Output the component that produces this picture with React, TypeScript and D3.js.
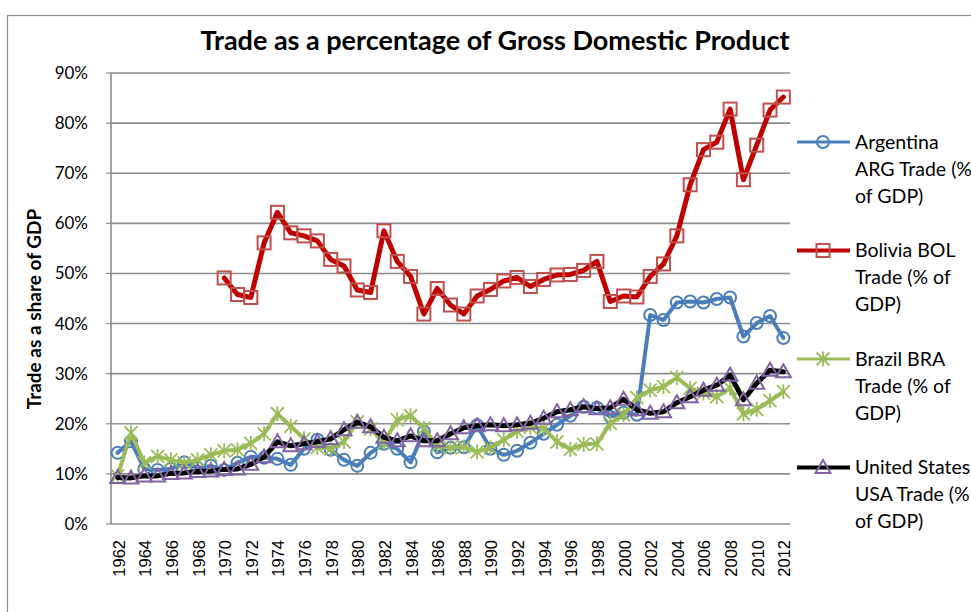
import React from 'react';
import * as d3 from 'd3';

// years on the category axis
const years: number[] = d3.range(1962, 2013);

const argentina: (number | null)[] = [
  14.2, 16.5, 11.0, 10.8, 11.0, 12.3, 11.2, 11.6, 10.8, 12.2,
  13.4, 13.2, 13.0, 11.8, 15.0, 16.8, 14.8, 12.8, 11.6, 14.2,
  16.0, 15.0, 12.3, 18.4, 14.3, 15.2, 15.3, 19.7, 15.0, 13.8,
  14.6, 16.2, 18.0, 19.8, 21.6, 23.4, 23.2, 21.4, 22.2, 21.8,
  41.7, 40.7, 44.2, 44.4, 44.2, 44.9, 45.2, 37.4, 40.1, 41.5, 37.1,
];

const bolivia: (number | null)[] = [
  null, null, null, null, null, null, null, null,
  49.1, 45.8, 45.2, 56.1, 62.2, 58.1, 57.5, 56.5, 52.8, 51.5,
  46.7, 46.2, 58.5, 52.4, 49.4, 41.9, 47.0, 43.7, 41.9, 45.5,
  46.8, 48.5, 49.2, 47.4, 48.8, 49.7, 49.8, 50.6, 52.4, 44.4,
  45.5, 45.3, 49.4, 51.9, 57.5, 67.7, 74.7, 76.2, 82.8, 68.7,
  75.6, 82.6, 85.2,
];

const brazil: (number | null)[] = [
  9.6, 18.2, 12.2, 13.5, 12.8, 12.2, 12.8, 13.8, 14.6, 14.8,
  16.1, 18.0, 22.0, 19.5, 17.0, 15.3, 15.0, 16.4, 20.4, 19.0,
  16.2, 20.8, 21.6, 19.1, 15.6, 15.2, 15.4, 14.4, 15.2, 16.8,
  18.5, 19.3, 19.1, 16.4, 14.9, 15.9, 16.0, 20.1, 21.8, 25.2,
  26.7, 27.4, 29.2, 27.1, 26.1, 25.4, 27.1, 22.0, 22.9, 24.6, 26.4,
];

const usa: (number | null)[] = [
  9.3, 9.2, 9.6, 9.6, 10.1, 10.2, 10.5, 10.6, 10.9, 11.0,
  11.9, 13.4, 16.4, 15.6, 16.0, 16.4, 17.0, 18.8, 20.3, 19.4,
  17.3, 16.6, 17.6, 16.6, 16.6, 18.0, 19.2, 19.6, 19.8, 19.6,
  19.8, 20.1, 21.1, 22.4, 22.8, 23.4, 23.0, 23.2, 24.9, 22.8,
  22.1, 22.4, 24.2, 25.4, 26.7, 27.7, 29.7, 24.8, 28.1, 30.7, 30.4,
];

const yTicks: number[] = [0, 10, 20, 30, 40, 50, 60, 70, 80, 90];

const legendLines: string[][] = [
  ['Argentina', 'ARG Trade (%', 'of GDP)'],
  ['Bolivia BOL', 'Trade (% of', 'GDP)'],
  ['Brazil BRA', 'Trade (% of', 'GDP)'],
  ['United States', 'USA Trade (%', 'of GDP)'],
];

type MarkerKind = 'circle' | 'square' | 'star' | 'triangle';

const series = [
  { values: argentina, line: '#4a7ebb', mark: '#4a7ebb', width: 4, marker: 'circle' as MarkerKind },
  { values: bolivia, line: '#c00000', mark: '#c0504d', width: 5, marker: 'square' as MarkerKind },
  { values: brazil, line: '#9bbb59', mark: '#9bbb59', width: 4, marker: 'star' as MarkerKind },
  { values: usa, line: '#000000', mark: '#8064a2', width: 5, marker: 'triangle' as MarkerKind },
];

const Marker: React.FC<{ kind: MarkerKind; x: number; y: number; color: string }> = ({ kind, x, y, color }) => {
  if (kind === 'circle') {
    return <circle cx={x} cy={y} r={6} fill="none" stroke={color} strokeWidth={2} />;
  }
  if (kind === 'square') {
    return <rect x={x - 6.5} y={y - 6.5} width={13} height={13} fill="none" stroke={color} strokeWidth={2} />;
  }
  if (kind === 'star') {
    const s = 6.5;
    return (
      <g stroke={color} strokeWidth={1.8}>
        <line x1={x - s} y1={y - s} x2={x + s} y2={y + s} />
        <line x1={x - s} y1={y + s} x2={x + s} y2={y - s} />
        <line x1={x} y1={y - s - 1} x2={x} y2={y + s + 1} />
      </g>
    );
  }
  return (
    <path
      d={`M${x},${y - 7.5}L${x + 7.5},${y + 5.5}L${x - 7.5},${y + 5.5}Z`}
      fill="none"
      stroke={color}
      strokeWidth={2}
      strokeLinejoin="miter"
    />
  );
};

export default function App() {
  const width = 971;
  const height = 612;
  const plot = { left: 111, right: 790, top: 73, bottom: 524 };

  const x = d3.scaleBand<number>()
    .domain(years)
    .range([plot.left, plot.right])
    .padding(0);
  const cx = (yr: number) => (x(yr) as number) + x.bandwidth() / 2;

  const y = d3.scaleLinear().domain([0, 90]).range([plot.bottom, plot.top]);

  const line = d3.line<{ yr: number; v: number | null }>()
    .defined(d => d.v !== null)
    .x(d => cx(d.yr))
    .y(d => y(d.v as number));

  const calibri = 'Lato, "Open Sans", sans-serif';

  return (
    <svg width={width} height={height} style={{ position: 'absolute', left: 0, top: 0, background: '#fff' }}>
      {/* chart frame */}
      <rect x={7.5} y={15.5} width={1000} height={700} fill="#fff" stroke="#8c8c8c" strokeWidth={1.2} />

      <text x={495} y={50} textAnchor="middle" fontFamily={calibri} fontWeight={700} fontSize={27} fill="#000">
        Trade as a percentage of Gross Domestic Product
      </text>

      {/* gridlines */}
      {yTicks.map(t => (
        <g key={t}>
          <line x1={plot.left} x2={plot.right} y1={y(t)} y2={y(t)} stroke="#8c8c8c" strokeWidth={1.6} />
          <line x1={plot.left - 5} x2={plot.left} y1={y(t)} y2={y(t)} stroke="#8c8c8c" strokeWidth={1.2} />
          <text x={88} y={y(t)} dy="0.35em" textAnchor="end" fontFamily={calibri} fontSize={17} fill="#000">
            {t}%
          </text>
        </g>
      ))}
      <line x1={plot.left} x2={plot.left} y1={plot.top} y2={plot.bottom} stroke="#8c8c8c" strokeWidth={1.6} />

      {/* x labels, every other year */}
      {years.filter((_, i) => i % 2 === 0).map(yr => (
        <text
          key={yr}
          transform={`translate(${cx(yr) + 1},${540}) rotate(-90)`}
          textAnchor="end"
          dominantBaseline="central"
          fontFamily='"Liberation Sans", Arial, sans-serif'
          fontSize={16.5}
          fill="#000"
        >
          {yr}
        </text>
      ))}

      <text
        transform={`translate(33,${309}) rotate(-90)`}
        textAnchor="middle"
        dominantBaseline="central"
        fontFamily={calibri}
        fontWeight={700}
        fontSize={19}
        fill="#000"
      >
        Trade as a share of GDP
      </text>

      {/* series */}
      {series.map((s, si) => {
        const pts = years.map((yr, i) => ({ yr, v: s.values[i] }));
        return (
          <g key={si}>
            <path d={line(pts) || ''} fill="none" stroke={s.line} strokeWidth={s.width} strokeLinejoin="round" strokeLinecap="round" />
            {pts.filter(p => p.v !== null).map(p => (
              <Marker key={p.yr} kind={s.marker} x={cx(p.yr)} y={y(p.v as number)} color={s.mark} />
            ))}
          </g>
        );
      })}

      {/* legend */}
      {series.map((s, si) => {
        const ly = 142 + si * 108.5;
        return (
          <g key={si}>
            <line x1={797} x2={850} y1={ly} y2={ly} stroke={s.line} strokeWidth={s.width - 1} />
            <Marker kind={s.marker} x={823} y={ly} color={s.mark} />
            {legendLines[si].map((t, li) => (
              <text key={li} x={855} y={ly + li * 27} dy="0.35em" fontFamily={calibri} fontSize={19.5} fill="#000">
                {t}
              </text>
            ))}
          </g>
        );
      })}
    </svg>
  );
}
